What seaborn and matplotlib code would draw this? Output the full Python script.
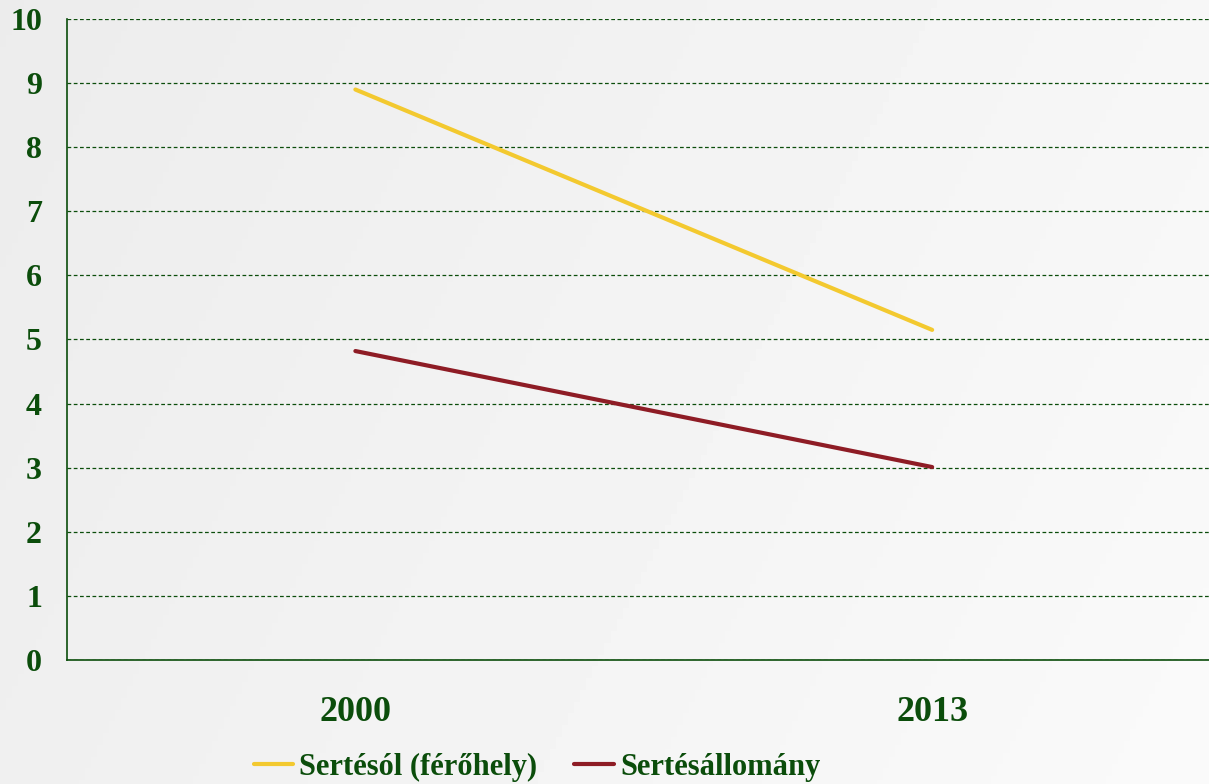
import numpy as np
import pandas as pd
import seaborn as sns
import matplotlib.pyplot as plt

years = ['2000', '2013']
series_names = ['Sertésól (férőhely)', 'Sertésállomány']
sertesol = [8.9, 5.15]
allomany = [4.82, 3.01]
colors = ['#f3c92f', '#8e1c25']

df = pd.DataFrame({
    'year': years * 2,
    'value': sertesol + allomany,
    'series': [series_names[0]] * 2 + [series_names[1]] * 2,
})

sns.set_style('white')
plt.rcParams['font.family'] = ['Liberation Serif', 'DejaVu Serif']
green = '#0b4d0b'

fig = plt.figure(figsize=(12.09, 7.84), dpi=100)
# gradient background: greyish at left, near white at right
bg = fig.add_axes([0, 0, 1, 1], zorder=-10)
gx, gy = np.meshgrid(np.linspace(0, 1, 200), np.linspace(0, 1, 200))
grad = 0.925 + 0.055 * np.clip(0.75 * gx + 0.25 * gy, 0, 1)
bg.imshow(grad, cmap='gray', vmin=0, vmax=1, aspect='auto', extent=[0, 1, 0, 1])
bg.axis('off')

ax = fig.add_axes([67 / 1209, 1 - 660 / 784, 1142 / 1209, 641 / 784])
ax.patch.set_alpha(0)
sns.lineplot(data=df, x='year', y='value', hue='series', palette=colors,
             linewidth=3, ax=ax, legend=False)

ax.set_xlim(-0.5, 1.48)
ax.set_ylim(0, 10)
ax.set_yticks(range(0, 11))
ax.set_xlabel('')
ax.set_ylabel('')
ax.grid(axis='y', linestyle=(0, (3, 2)), color=green, linewidth=0.9)
ax.set_axisbelow(True)
for s in ['top', 'right']:
    ax.spines[s].set_visible(False)
for s in ['left', 'bottom']:
    ax.spines[s].set_color(green)
    ax.spines[s].set_linewidth(1.2)
ax.tick_params(axis='y', length=0, pad=18, labelsize=23, labelcolor=green)
ax.tick_params(axis='x', length=0, pad=26, labelsize=26, labelcolor=green)
for lab in ax.get_xticklabels() + ax.get_yticklabels():
    lab.set_fontweight('bold')

handles = [plt.Line2D([], [], color=c, linewidth=3) for c in colors]
leg = fig.legend(handles, series_names, loc='center', bbox_to_anchor=(537 / 1209, 1 - 767 / 784),
                 ncol=2, frameon=False, handlelength=1.3, handletextpad=0.2, columnspacing=1.2,
                 prop={'size': 22, 'weight': 'bold'})
for t in leg.get_texts():
    t.set_color(green)

fig.savefig('out.png', dpi=100)
